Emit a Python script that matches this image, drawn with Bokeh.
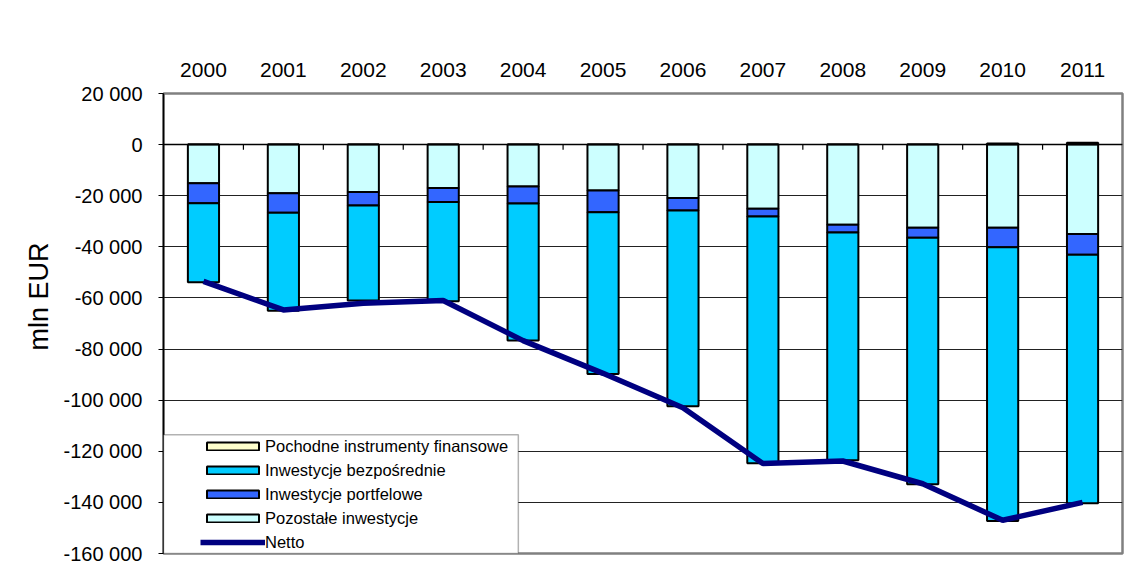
from bokeh.plotting import figure
from bokeh.models import (ColumnDataSource, Range1d, FixedTicker, Legend, LegendItem,
                          BoxAnnotation, Span, Title)
from bokeh.embed import file_html
from bokeh.resources import INLINE

# ---- data (mln EUR) ----
years = ["2000", "2001", "2002", "2003", "2004", "2005",
         "2006", "2007", "2008", "2009", "2010", "2011"]
pochodne = [0, 0, 0, 0, 0, 0, 0, 0, 0, 0, 400, 700]
pozostale = [-15100, -19000, -18500, -17000, -16400, -18000,
             -20900, -25100, -31400, -32500, -32500, -35000]
portfelowe = [-7800, -7700, -5300, -5500, -6600, -8500,
              -4900, -3000, -3000, -3900, -7700, -8100]
bezposrednie = [-31000, -38300, -37200, -38800, -53700, -63300,
                -76600, -96600, -89100, -96500, -107100, -97200]
netto = [-53500, -64700, -62100, -61000, -76700, -89500,
         -103000, -124800, -123800, -132700, -147000, -140000]
y_ticks = [-160000, -140000, -120000, -100000, -80000, -60000,
           -40000, -20000, 0, 20000]

FONT = "Liberation Sans"

xs = [i + 0.5 for i in range(len(years))]
bounds = [float(i) for i in range(1, len(years))]

src = ColumnDataSource(dict(x=xs, poch=pochodne, poz=pozostale, port=portfelowe,
                            bez=bezposrednie, netto=netto))

p = figure(width=1130, height=580, output_backend="svg", toolbar_location=None,
           x_range=Range1d(0, len(years)), y_range=Range1d(-160000, 20000),
           x_axis_location="above",
           min_border_left=163, min_border_right=8, min_border_top=93,
           min_border_bottom=27)

p.outline_line_color = "#808080"
p.outline_line_width = 2.5

p.xgrid.visible = False
p.ygrid.ticker = FixedTicker(ticks=y_ticks)
p.ygrid.grid_line_color = "#222222"
p.ygrid.grid_line_width = 1

# y axis
p.yaxis.ticker = FixedTicker(ticks=y_ticks)
p.yaxis.major_label_overrides = {v: f"{v:,}".replace(",", " ") for v in y_ticks}
p.yaxis.major_tick_out = 5
p.yaxis.major_tick_in = 0
p.yaxis.minor_tick_line_color = None
p.yaxis.axis_line_color = "#000000"
p.yaxis.axis_line_width = 1.5
p.yaxis.major_tick_line_color = "#000000"
p.yaxis.major_label_standoff = 16
p.yaxis.major_label_text_font = FONT
p.yaxis.major_label_text_font_size = "20px"
p.yaxis.major_label_text_color = "#000000"

# axis title (placed left of the tick labels, shifted upward like the original)
p.add_layout(Title(text="mln EUR", align="left", offset=203, standoff=14,
                   text_font=FONT, text_font_size="27px", text_font_style="normal",
                   text_color="#000000"), "left")

# x axis (labels above)
p.xaxis.ticker = FixedTicker(ticks=xs)
p.xaxis.major_label_overrides = {x: y for x, y in zip(xs, years)}
p.xaxis.major_tick_out = 0
p.xaxis.major_tick_in = 0
p.xaxis.minor_tick_line_color = None
p.xaxis.axis_line_color = None
p.xaxis.major_label_standoff = 17
p.xaxis.major_label_text_font = FONT
p.xaxis.major_label_text_font_size = "21px"
p.xaxis.major_label_text_color = "#000000"

# category axis line at zero with ticks between categories
p.add_layout(Span(location=0, dimension="width", line_color="#000000", line_width=1.5))
p.segment(x0=bounds, y0=[0] * len(bounds), x1=bounds, y1=[-2000] * len(bounds),
          line_color="#000000", line_width=1.2)

BAR_W = 0.39
r_poch = p.vbar(x="x", top="poch", bottom=0, width=BAR_W, source=src,
                fill_color="#FFFFCC", line_color="#000000", line_width=2)
stack = p.vbar_stack(["poz", "port", "bez"], x="x", width=BAR_W, source=src,
                     fill_color=["#CCFFFF", "#3366FF", "#00CCFF"],
                     line_color="#000000", line_width=2)
r_net = p.line("x", "netto", source=src, line_color="#000080", line_width=5.5)

# legend frame
p.add_layout(BoxAnnotation(left=0, right=4.44, bottom=-160000, top=-113500,
                           fill_color="white", fill_alpha=1.0,
                           line_color="#000000", line_width=1.5))

legend = Legend(items=[
    LegendItem(label="Pochodne instrumenty finansowe", renderers=[r_poch]),
    LegendItem(label="Inwestycje bezpośrednie", renderers=[stack[2]]),
    LegendItem(label="Inwestycje portfelowe", renderers=[stack[1]]),
    LegendItem(label="Pozostałe inwestycje", renderers=[stack[0]]),
    LegendItem(label="Netto", renderers=[r_net]),
], location=(37, 1), padding=1, spacing=4, label_height=20, glyph_height=10,
    glyph_width=65, label_standoff=0, margin=0, border_line_color=None,
    background_fill_alpha=0, label_text_font=FONT, label_text_font_size="16.5px",
    label_text_color="#000000")
p.add_layout(legend)

open("out.html", "w").write(file_html(p, INLINE))
